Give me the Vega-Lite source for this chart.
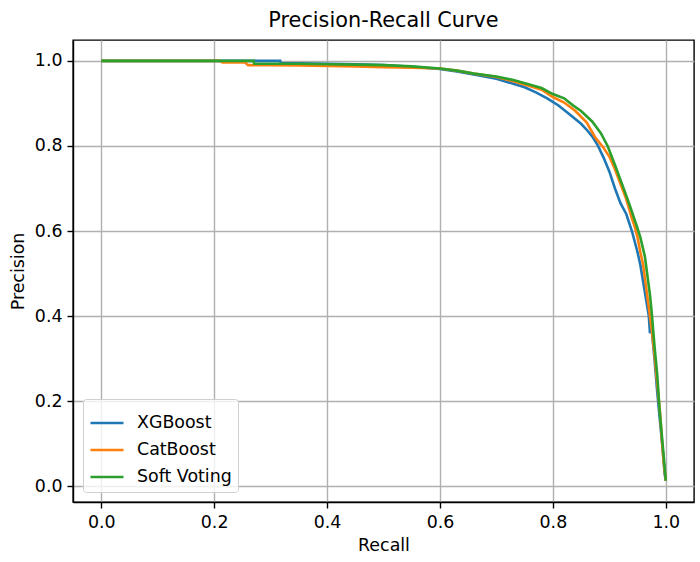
{
  "$schema": "https://vega.github.io/schema/vega-lite/v6.json",
  "width": 621,
  "height": 462,
  "autosize": "none",
  "padding": {"left": 73, "top": 40, "right": 6, "bottom": 60},
  "background": "white",
  "title": {"text": "Precision-Recall Curve", "font": "DejaVu Sans", "fontSize": 20.8, "fontWeight": "normal", "color": "black", "offset": 8},
  "config": {
    "view": {"stroke": "black", "strokeWidth": 1.4},
    "axis": {
      "labelFont": "DejaVu Sans", "labelFontSize": 17.4, "labelColor": "black",
      "titleFont": "DejaVu Sans", "titleFontSize": 17.4, "titleFontWeight": "normal", "titleColor": "black",
      "gridColor": "#b0b0b0", "gridWidth": 1.4, "gridOpacity": 1,
      "tickColor": "black", "tickSize": 6, "tickWidth": 1.4,
      "domainColor": "black", "domainWidth": 1.4, "labelPadding": 5
    }
  },
  "data": {
    "values": [
      {"model": "XGBoost", "recall": 0.0, "precision": 1.0},
      {"model": "XGBoost", "recall": 0.317, "precision": 1.0},
      {"model": "XGBoost", "recall": 0.318, "precision": 0.994},
      {"model": "XGBoost", "recall": 0.35, "precision": 0.994},
      {"model": "XGBoost", "recall": 0.40, "precision": 0.993},
      {"model": "XGBoost", "recall": 0.45, "precision": 0.992},
      {"model": "XGBoost", "recall": 0.50, "precision": 0.99},
      {"model": "XGBoost", "recall": 0.55, "precision": 0.986},
      {"model": "XGBoost", "recall": 0.60, "precision": 0.981},
      {"model": "XGBoost", "recall": 0.63, "precision": 0.975},
      {"model": "XGBoost", "recall": 0.66, "precision": 0.968},
      {"model": "XGBoost", "recall": 0.70, "precision": 0.958},
      {"model": "XGBoost", "recall": 0.73, "precision": 0.946},
      {"model": "XGBoost", "recall": 0.75, "precision": 0.938},
      {"model": "XGBoost", "recall": 0.77, "precision": 0.926},
      {"model": "XGBoost", "recall": 0.79, "precision": 0.912},
      {"model": "XGBoost", "recall": 0.81, "precision": 0.895},
      {"model": "XGBoost", "recall": 0.83, "precision": 0.874},
      {"model": "XGBoost", "recall": 0.85, "precision": 0.852},
      {"model": "XGBoost", "recall": 0.86, "precision": 0.838},
      {"model": "XGBoost", "recall": 0.87, "precision": 0.822},
      {"model": "XGBoost", "recall": 0.88, "precision": 0.80},
      {"model": "XGBoost", "recall": 0.89, "precision": 0.772},
      {"model": "XGBoost", "recall": 0.90, "precision": 0.74},
      {"model": "XGBoost", "recall": 0.91, "precision": 0.70},
      {"model": "XGBoost", "recall": 0.92, "precision": 0.665},
      {"model": "XGBoost", "recall": 0.93, "precision": 0.64},
      {"model": "XGBoost", "recall": 0.94, "precision": 0.60},
      {"model": "XGBoost", "recall": 0.95, "precision": 0.55},
      {"model": "XGBoost", "recall": 0.955, "precision": 0.52},
      {"model": "XGBoost", "recall": 0.96, "precision": 0.48},
      {"model": "XGBoost", "recall": 0.965, "precision": 0.44},
      {"model": "XGBoost", "recall": 0.97, "precision": 0.40},
      {"model": "XGBoost", "recall": 0.972, "precision": 0.36},
      {"model": "XGBoost", "recall": 0.975, "precision": 0.37},
      {"model": "XGBoost", "recall": 0.98, "precision": 0.30},
      {"model": "XGBoost", "recall": 0.985, "precision": 0.22},
      {"model": "XGBoost", "recall": 0.99, "precision": 0.15},
      {"model": "XGBoost", "recall": 0.995, "precision": 0.08},
      {"model": "XGBoost", "recall": 0.998, "precision": 0.03},
      {"model": "XGBoost", "recall": 1.0, "precision": 0.013},

      {"model": "CatBoost", "recall": 0.0, "precision": 1.0},
      {"model": "CatBoost", "recall": 0.21, "precision": 1.0},
      {"model": "CatBoost", "recall": 0.215, "precision": 0.996},
      {"model": "CatBoost", "recall": 0.255, "precision": 0.996},
      {"model": "CatBoost", "recall": 0.26, "precision": 0.99},
      {"model": "CatBoost", "recall": 0.30, "precision": 0.99},
      {"model": "CatBoost", "recall": 0.35, "precision": 0.989},
      {"model": "CatBoost", "recall": 0.40, "precision": 0.988},
      {"model": "CatBoost", "recall": 0.45, "precision": 0.987},
      {"model": "CatBoost", "recall": 0.50, "precision": 0.985},
      {"model": "CatBoost", "recall": 0.55, "precision": 0.984},
      {"model": "CatBoost", "recall": 0.60, "precision": 0.982},
      {"model": "CatBoost", "recall": 0.63, "precision": 0.977},
      {"model": "CatBoost", "recall": 0.66, "precision": 0.97},
      {"model": "CatBoost", "recall": 0.70, "precision": 0.962},
      {"model": "CatBoost", "recall": 0.73, "precision": 0.952},
      {"model": "CatBoost", "recall": 0.76, "precision": 0.94},
      {"model": "CatBoost", "recall": 0.78, "precision": 0.932},
      {"model": "CatBoost", "recall": 0.80, "precision": 0.915},
      {"model": "CatBoost", "recall": 0.82, "precision": 0.902},
      {"model": "CatBoost", "recall": 0.84, "precision": 0.882},
      {"model": "CatBoost", "recall": 0.86, "precision": 0.855},
      {"model": "CatBoost", "recall": 0.875, "precision": 0.82},
      {"model": "CatBoost", "recall": 0.89, "precision": 0.795},
      {"model": "CatBoost", "recall": 0.90, "precision": 0.775},
      {"model": "CatBoost", "recall": 0.91, "precision": 0.745},
      {"model": "CatBoost", "recall": 0.92, "precision": 0.71},
      {"model": "CatBoost", "recall": 0.93, "precision": 0.675},
      {"model": "CatBoost", "recall": 0.94, "precision": 0.63},
      {"model": "CatBoost", "recall": 0.945, "precision": 0.61},
      {"model": "CatBoost", "recall": 0.95, "precision": 0.585},
      {"model": "CatBoost", "recall": 0.955, "precision": 0.55},
      {"model": "CatBoost", "recall": 0.96, "precision": 0.52},
      {"model": "CatBoost", "recall": 0.965, "precision": 0.47},
      {"model": "CatBoost", "recall": 0.97, "precision": 0.42},
      {"model": "CatBoost", "recall": 0.975, "precision": 0.37},
      {"model": "CatBoost", "recall": 0.98, "precision": 0.31},
      {"model": "CatBoost", "recall": 0.985, "precision": 0.24},
      {"model": "CatBoost", "recall": 0.99, "precision": 0.17},
      {"model": "CatBoost", "recall": 0.993, "precision": 0.11},
      {"model": "CatBoost", "recall": 0.996, "precision": 0.06},
      {"model": "CatBoost", "recall": 1.0, "precision": 0.013},

      {"model": "Soft Voting", "recall": 0.0, "precision": 1.0},
      {"model": "Soft Voting", "recall": 0.27, "precision": 1.0},
      {"model": "Soft Voting", "recall": 0.271, "precision": 0.993},
      {"model": "Soft Voting", "recall": 0.30, "precision": 0.993},
      {"model": "Soft Voting", "recall": 0.35, "precision": 0.993},
      {"model": "Soft Voting", "recall": 0.40, "precision": 0.992},
      {"model": "Soft Voting", "recall": 0.45, "precision": 0.991},
      {"model": "Soft Voting", "recall": 0.50, "precision": 0.99},
      {"model": "Soft Voting", "recall": 0.55, "precision": 0.987},
      {"model": "Soft Voting", "recall": 0.60, "precision": 0.982},
      {"model": "Soft Voting", "recall": 0.63, "precision": 0.977},
      {"model": "Soft Voting", "recall": 0.66, "precision": 0.970},
      {"model": "Soft Voting", "recall": 0.70, "precision": 0.963},
      {"model": "Soft Voting", "recall": 0.73, "precision": 0.955},
      {"model": "Soft Voting", "recall": 0.76, "precision": 0.944},
      {"model": "Soft Voting", "recall": 0.78, "precision": 0.936},
      {"model": "Soft Voting", "recall": 0.80, "precision": 0.922},
      {"model": "Soft Voting", "recall": 0.82, "precision": 0.912},
      {"model": "Soft Voting", "recall": 0.835, "precision": 0.896},
      {"model": "Soft Voting", "recall": 0.85, "precision": 0.882},
      {"model": "Soft Voting", "recall": 0.87, "precision": 0.857},
      {"model": "Soft Voting", "recall": 0.885, "precision": 0.83},
      {"model": "Soft Voting", "recall": 0.897, "precision": 0.80},
      {"model": "Soft Voting", "recall": 0.91, "precision": 0.755},
      {"model": "Soft Voting", "recall": 0.924, "precision": 0.705},
      {"model": "Soft Voting", "recall": 0.935, "precision": 0.665},
      {"model": "Soft Voting", "recall": 0.949, "precision": 0.61},
      {"model": "Soft Voting", "recall": 0.955, "precision": 0.585},
      {"model": "Soft Voting", "recall": 0.963, "precision": 0.54},
      {"model": "Soft Voting", "recall": 0.968, "precision": 0.49},
      {"model": "Soft Voting", "recall": 0.972, "precision": 0.45},
      {"model": "Soft Voting", "recall": 0.975, "precision": 0.41},
      {"model": "Soft Voting", "recall": 0.98, "precision": 0.33},
      {"model": "Soft Voting", "recall": 0.985, "precision": 0.26},
      {"model": "Soft Voting", "recall": 0.989, "precision": 0.18},
      {"model": "Soft Voting", "recall": 0.993, "precision": 0.12},
      {"model": "Soft Voting", "recall": 0.997, "precision": 0.06},
      {"model": "Soft Voting", "recall": 1.0, "precision": 0.013}
    ]
  },
  "mark": {"type": "line", "strokeWidth": 2.6, "clip": true},
  "encoding": {
    "x": {
      "field": "recall", "type": "quantitative",
      "scale": {"domain": [-0.05, 1.05], "nice": false, "zero": false},
      "axis": {"title": "Recall", "values": [0, 0.2, 0.4, 0.6, 0.8, 1.0], "format": ".1f", "grid": true, "titlePadding": 6}
    },
    "y": {
      "field": "precision", "type": "quantitative",
      "scale": {"domain": [-0.037, 1.049], "nice": false, "zero": false},
      "axis": {"title": "Precision", "values": [0, 0.2, 0.4, 0.6, 0.8, 1.0], "format": ".1f", "grid": true, "titlePadding": 7}
    },
    "color": {
      "field": "model", "type": "nominal",
      "scale": {"domain": ["XGBoost", "CatBoost", "Soft Voting"], "range": ["#1f77b4", "#ff7f0e", "#2ca02c"]},
      "legend": {
        "title": null, "orient": "bottom-left", "offset": 10,
        "symbolType": "stroke", "symbolSize": 1089, "symbolStrokeWidth": 2.6,
        "labelFont": "DejaVu Sans", "labelFontSize": 17.4, "labelColor": "black",
        "labelOffset": 12, "rowPadding": 0, "padding": 6,
        "strokeColor": "#d0d0d0", "fillColor": "rgba(255,255,255,0.8)", "cornerRadius": 3
      }
    }
  }
}
